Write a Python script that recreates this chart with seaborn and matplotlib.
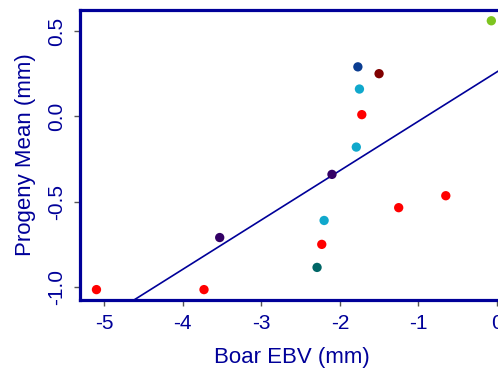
import matplotlib
matplotlib.use("Agg")
import matplotlib.pyplot as plt
import pandas as pd
import seaborn as sns

# boar EBV vs progeny mean, one point per boar
boar_ebv = [-0.07, -1.77, -1.50, -1.75, -1.72, -1.79, -2.10, -0.65, -1.25,
            -2.20, -3.53, -2.23, -2.29, -5.10, -3.73]
progeny_mean = [0.56, 0.29, 0.25, 0.16, 0.01, -0.18, -0.34, -0.465, -0.535,
                -0.61, -0.71, -0.75, -0.885, -1.015, -1.015]
line_group = ["green", "navy", "maroon", "cyan", "red", "cyan", "purple", "red", "red",
              "cyan", "purple", "red", "teal", "red", "red"]
group_colours = {"green": "#7DC41F", "navy": "#0B3D91", "maroon": "#800000",
                 "cyan": "#10A8CC", "red": "#FF0000", "purple": "#330066",
                 "teal": "#006666"}

# fitted line
intercept = 0.26
slope = 0.289

x_ticks = [-5, -4, -3, -2, -1, 0]
y_ticks = [0.5, 0.0, -0.5, -1.0]

df = pd.DataFrame({"ebv": boar_ebv, "mean": progeny_mean, "group": line_group})

sns.set_theme(style="white")
plt.rcParams['font.family'] = ['Liberation Sans', 'DejaVu Sans']
blue = "#000099"

fig = plt.figure(figsize=(4.98, 3.72), dpi=100)
ax = fig.add_axes([0.1606, 0.1935, 0.8528, 0.7796])

sns.scatterplot(data=df, x="ebv", y="mean", hue="group", palette=group_colours,
                s=45, edgecolor="none", legend=False, ax=ax, zorder=3)
ax.axline((0, intercept), slope=slope, color=blue, lw=1.2, zorder=2)

ax.set_xlim(-5.31, 0.1)
ax.set_ylim(-1.076, 0.623)
ax.set_xticks(x_ticks)
ax.set_xticklabels([str(t) for t in x_ticks])
ax.set_yticks(y_ticks)
ax.set_yticklabels([f"{t:.1f}" for t in y_ticks], rotation=90, va="center")

ax.tick_params(axis="both", which="major", direction="out", length=4, width=1,
               color="#555555", labelcolor=blue, labelsize=15, bottom=True, left=True)
ax.tick_params(axis="x", pad=6)
ax.tick_params(axis="y", pad=6)

ax.set_xlabel("Boar EBV (mm)", color=blue, fontsize=16, labelpad=10)
ax.set_ylabel("Progeny Mean (mm)", color=blue, fontsize=16, labelpad=8)

for side in ax.spines.values():
    side.set_color(blue)
    side.set_linewidth(2.3)

fig.savefig("out.png", dpi=100)
